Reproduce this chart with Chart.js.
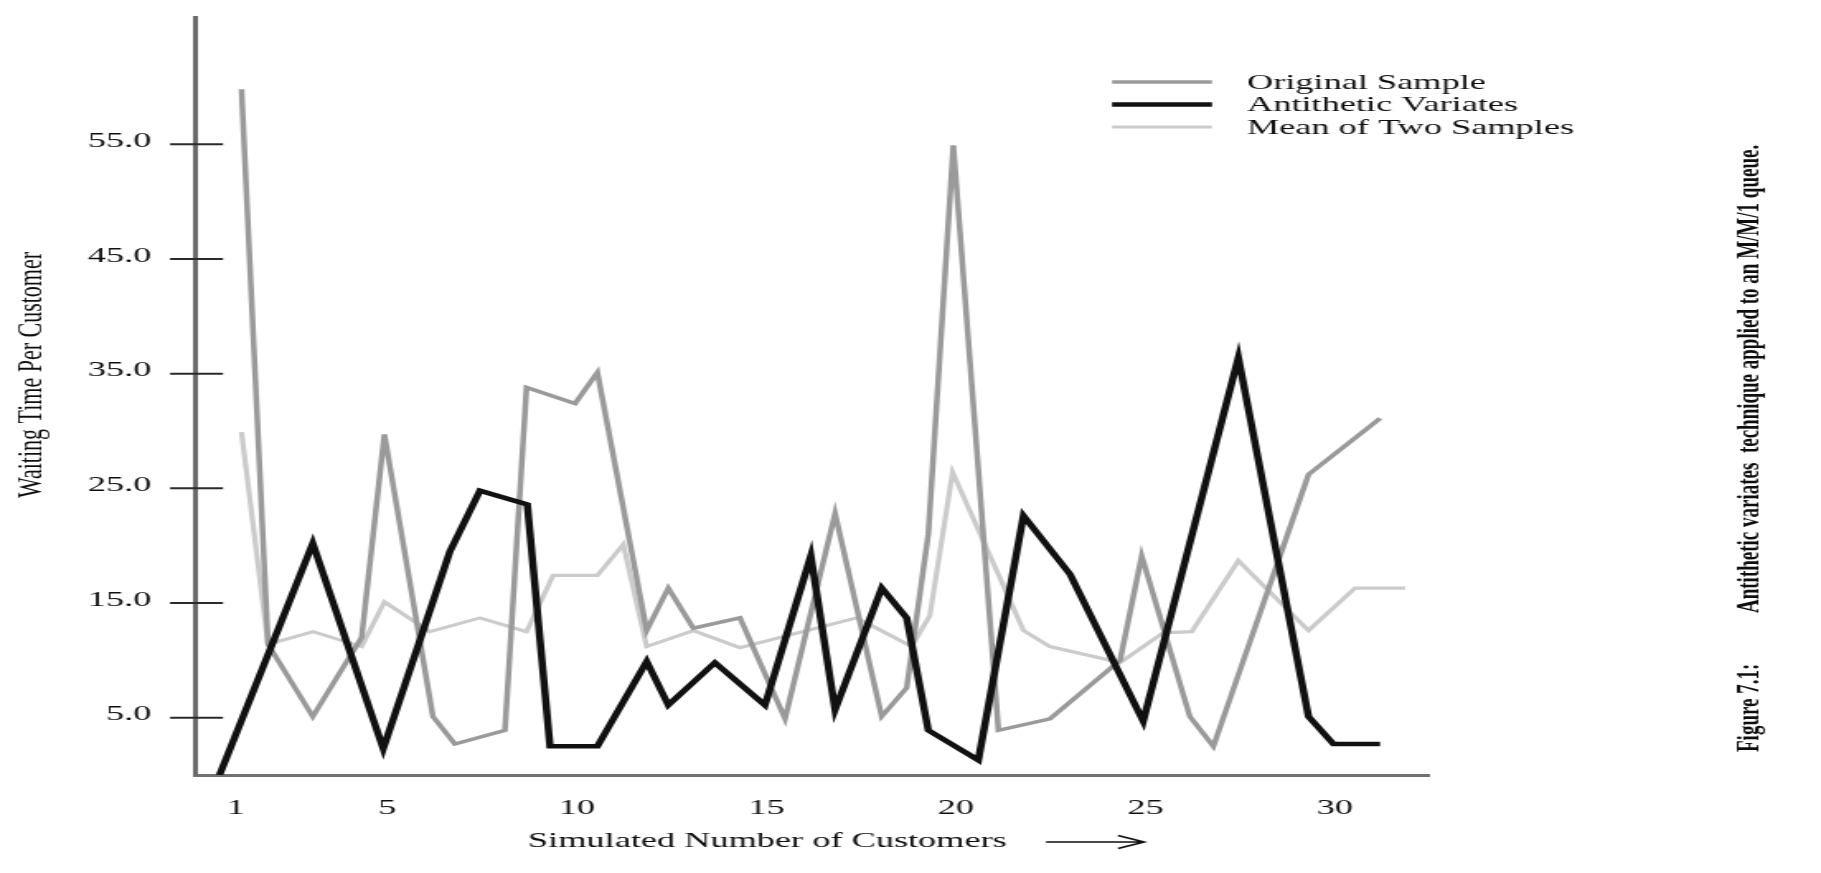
<!DOCTYPE html>
<html>
<head>
<meta charset="utf-8">
<title>Antithetic variates</title>
<script src="https://cdn.jsdelivr.net/npm/chart.js"></script>
<style>
  html, body { margin: 0; padding: 0; background: #fff; }
  #chart { display: block; }
</style>
</head>
<body>
<canvas id="chart" width="1104" height="873" style="width:1821px;height:873px"></canvas>
<script>
// values (x = customer number, y = waiting time)
const origX = [1.15, 1.85, 3.03, 4.32, 4.92, 6.20, 6.78, 8.10, 8.67, 9.95, 10.54, 11.84, 12.41, 13.07, 14.30,
               15.49, 16.81, 18.04, 18.70, 19.27, 19.93, 21.12, 22.48, 24.33, 24.90, 26.17, 26.79, 29.30, 31.19];
const origY = [59.8, 11.4, 5.1, 12.0, 29.7, 5.1, 2.7, 3.9, 33.8, 32.4, 35.1, 12.6, 16.3, 12.8, 13.7,
               4.9, 22.8, 5.1, 7.6, 21.0, 54.9, 3.9, 4.9, 10.0, 19.1, 5.1, 2.5, 26.2, 31.1];

const antiX = [0.57, 3.03, 4.89, 6.65, 7.44, 8.69, 9.29, 10.54, 11.84, 12.41, 13.64, 14.96, 16.17,
               16.81, 18.04, 18.70, 19.27, 20.59, 21.78, 23.01, 24.94, 27.45, 29.30, 29.96, 31.19];
const antiY = [0.0, 20.2, 2.3, 19.5, 24.8, 23.6, 2.5, 2.5, 9.9, 6.1, 9.8, 6.1, 19.1,
               5.7, 16.3, 13.7, 3.9, 1.3, 22.6, 17.5, 4.7, 36.4, 5.1, 2.7, 2.7];

const meanX = [1.15, 1.85, 3.04, 4.32, 4.92, 6.12, 7.44, 8.67, 9.37, 10.54, 11.22, 11.84, 13.07, 14.30,
               17.38, 18.83, 19.31, 19.91, 21.78, 22.48, 24.33, 25.47, 26.22, 27.45, 29.30, 30.53, 31.85];
const meanY = [29.9, 11.4, 12.5, 11.2, 15.1, 12.5, 13.7, 12.5, 17.4, 17.4, 20.1, 11.2, 12.6, 11.1,
               13.7, 11.2, 13.9, 26.4, 12.6, 11.2, 9.8, 12.4, 12.5, 18.7, 12.6, 16.3, 16.3];

const seriesNames = ['Original Sample', 'Antithetic Variates', 'Mean of Two Samples'];
const xTicks = [1, 5, 10, 15, 20, 25, 30];
const yTicks = [5, 15, 25, 35, 45, 55];

const xTitle = 'Simulated Number of Customers';
const yTitle = 'Waiting Time Per Customer';
const captionLead = 'Figure 7.1:';
const captionText = 'Antithetic variates  technique applied to an M/M/1 queue.';

// the scanned figure is stretched sideways, so the canvas is drawn narrow and widened by css
const STRETCH = 1821 / 1104;
const px = v => v / STRETCH;
const SERIF = "'Liberation Serif', 'Times New Roman', serif";

Chart.defaults.font.family = SERIF;
Chart.defaults.color = '#0e0e0e';

const toPoints = (xs, ys) => xs.map((x, i) => ({ x: x, y: ys[i] }));

// tick marks that cross the y axis, legend, titles and caption
const decor = {
  id: 'decor',
  afterDraw(chart) {
    const { ctx, chartArea: a, scales: { y } } = chart;
    ctx.save();

    ctx.strokeStyle = '#2a2a2a';
    ctx.lineWidth = 2;
    y.ticks.forEach(t => {
      const py = y.getPixelForValue(t.value);
      ctx.beginPath();
      ctx.moveTo(a.left - px(26), py);
      ctx.lineTo(a.left + px(27), py);
      ctx.stroke();
    });

    // legend
    ctx.font = `22px ${SERIF}`;
    ctx.textAlign = 'left';
    ctx.textBaseline = 'middle';
    ctx.fillStyle = '#0e0e0e';
    const rows = [82, 104.5, 127];
    chart.data.datasets.forEach((ds, i) => {
      ctx.strokeStyle = ds.borderColor;
      ctx.lineWidth = ds.borderWidth;
      ctx.beginPath();
      ctx.moveTo(px(1112), rows[i]);
      ctx.lineTo(px(1212), rows[i]);
      ctx.stroke();
      ctx.fillText(ds.label, px(1247), rows[i] + 1);
    });

    // x title with arrow
    ctx.fillText(xTitle, px(528), 841);
    ctx.strokeStyle = '#0e0e0e';
    ctx.lineWidth = 1.6;
    ctx.beginPath();
    ctx.moveTo(px(1046), 842);
    ctx.lineTo(px(1144), 842);
    ctx.moveTo(px(1118), 835.5);
    ctx.lineTo(px(1144), 842);
    ctx.lineTo(px(1118), 848.5);
    ctx.stroke();

    // y title
    ctx.save();
    ctx.translate(px(32), 375);
    ctx.rotate(-Math.PI / 2);
    ctx.textAlign = 'center';
    ctx.fillText(yTitle, 0, 0);
    ctx.restore();

    // caption, rotated
    ctx.font = `bold 19px ${SERIF}`;
    ctx.textAlign = 'left';
    ctx.save();
    ctx.translate(px(1751), 752);
    ctx.rotate(-Math.PI / 2);
    ctx.fillText(captionLead, 0, 0);
    ctx.restore();
    ctx.save();
    ctx.translate(px(1751), 613);
    ctx.rotate(-Math.PI / 2);
    ctx.fillText(captionText, 0, 0);
    ctx.restore();

    ctx.restore();
  }
};

new Chart(document.getElementById('chart'), {
  type: 'line',
  data: {
    datasets: [
      { label: seriesNames[0], data: toPoints(origX, origY), borderColor: '#9a9a9a', borderWidth: 3.5, order: 1 },
      { label: seriesNames[1], data: toPoints(antiX, antiY), borderColor: '#111111', borderWidth: 4.5, order: 0 },
      { label: seriesNames[2], data: toPoints(meanX, meanY), borderColor: '#cbcbcb', borderWidth: 3.2, order: 2 }
    ]
  },
  options: {
    responsive: false,
    animation: false,
    devicePixelRatio: 1,
    elements: {
      point: { radius: 0 },
      line: { tension: 0, fill: false, borderJoinStyle: 'miter', borderCapStyle: 'butt' }
    },
    layout: { padding: { left: 0, top: 17, right: 1104 - px(1429), bottom: 0 } },
    plugins: { legend: { display: false }, tooltip: { enabled: false } },
    scales: {
      x: {
        type: 'linear',
        min: -0.05,
        max: 32.48,
        grid: { display: false, drawTicks: false },
        border: { display: true, color: '#727272', width: 3 },
        afterBuildTicks: s => { s.ticks = xTicks.map(v => ({ value: v })); },
        afterFit: s => { s.height = 873 - 775; s.paddingLeft = 0; s.paddingRight = 0; },
        ticks: {
          autoSkip: false, maxRotation: 0, minRotation: 0, padding: 20,
          font: { size: 22 },
          callback: v => String(v)
        }
      },
      y: {
        type: 'linear',
        min: 0,
        max: 66.1,
        grid: { display: false, drawTicks: false },
        border: { display: true, color: '#6a6a6a', width: 3 },
        afterBuildTicks: s => { s.ticks = yTicks.map(v => ({ value: v })); },
        afterFit: s => { s.width = px(196); s.paddingTop = 0; s.paddingBottom = 0; },
        ticks: {
          padding: 27, labelOffset: -3,
          font: { size: 22 },
          callback: v => v.toFixed(1)
        }
      }
    }
  },
  plugins: [decor]
});
</script>
</body>
</html>
